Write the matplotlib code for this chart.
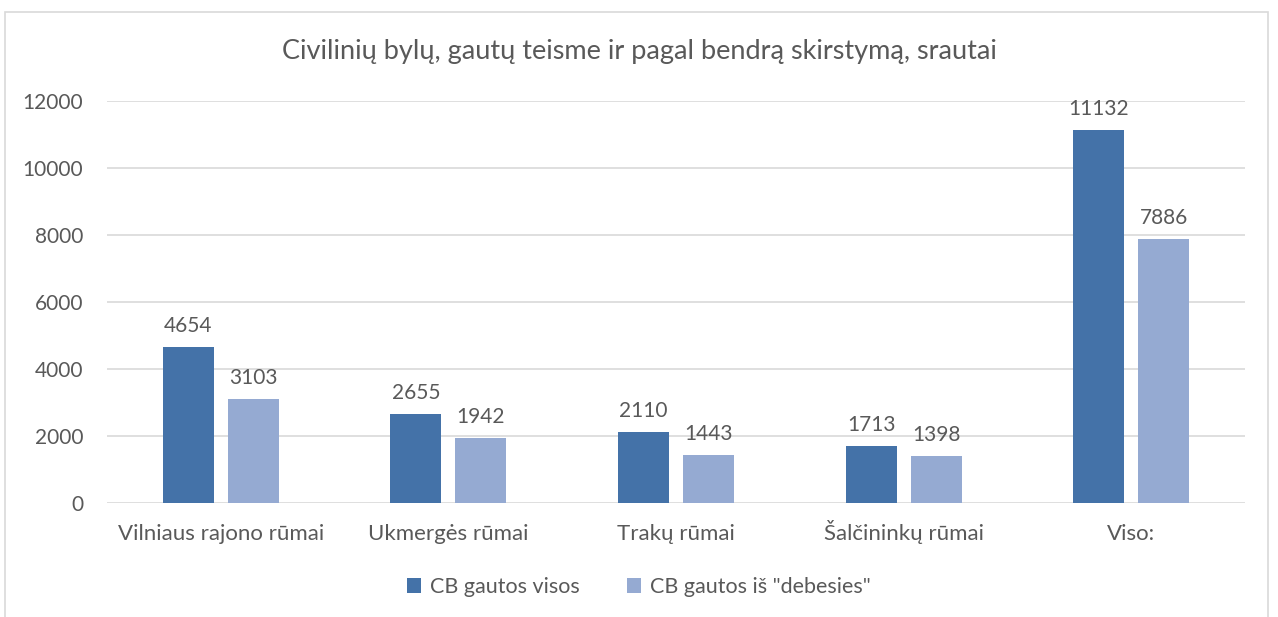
import numpy as np
import matplotlib
matplotlib.use("Agg")
import matplotlib.pyplot as plt
from matplotlib.patches import Rectangle

categories = ["Vilniaus rajono rūmai", "Ukmergės rūmai", "Trakų rūmai",
              "Šalčininkų rūmai", "Viso:"]
visos = [4654, 2655, 2110, 1713, 11132]
debesies = [3103, 1942, 1443, 1398, 7886]
series_names = ["CB gautos visos", 'CB gautos iš "debesies"']

DARK = "#4472A8"
LIGHT = "#95AAD2"
TEXT = "#595959"
GRID = "#D9D9D9"

plt.rcParams["font.family"] = ["Lato", "DejaVu Sans"]

fig = plt.figure(figsize=(12.78, 6.17), dpi=100)
fig.patches.append(Rectangle((5 / 1278, -0.1), 1263 / 1278, 1 - 12 / 617 + 0.1,
                             transform=fig.transFigure, fill=False,
                             edgecolor=GRID, lw=1.2))
ax = fig.add_axes([107 / 1278, 1 - 503 / 617, 1138 / 1278, 402 / 617])

x = np.arange(len(categories))
w = 0.224
off = 0.143
b1 = ax.bar(x - off, visos, w, color=DARK, label=series_names[0], zorder=3)
b2 = ax.bar(x + off, debesies, w, color=LIGHT, label=series_names[1], zorder=3)
for bars in (b1, b2):
    ax.bar_label(bars, padding=8, fontsize=15, color=TEXT)

ax.set_xlim(-0.5, len(categories) - 0.5)
ax.set_ylim(0, 12000)
ax.set_yticks(range(0, 12001, 2000))
ax.set_xticks(x)
ax.set_xticklabels(categories)
ax.grid(axis="y", color=GRID, lw=1.2, zorder=0)
ax.tick_params(axis="both", length=0, labelcolor=TEXT)
ax.tick_params(axis="y", pad=17, labelsize=15)
ax.tick_params(axis="x", pad=27, labelsize=16)
for lbl in ax.get_xticklabels():
    lbl.set_va("baseline")
for s in ax.spines.values():
    s.set_visible(False)

fig.text(0.5, 1 - 52 / 617, "Civilinių bylų, gautų teisme ir pagal bendrą skirstymą, srautai",
         ha="center", va="center", fontsize=19.5, color=TEXT)
fig.legend(loc="center", bbox_to_anchor=(0.5, 1 - 587 / 617), ncol=2, frameon=False,
           fontsize=15.5, labelcolor=TEXT, handlelength=0.65, handleheight=0.65,
           handletextpad=0.4, columnspacing=2.2)

fig.savefig("out.png", dpi=100)
